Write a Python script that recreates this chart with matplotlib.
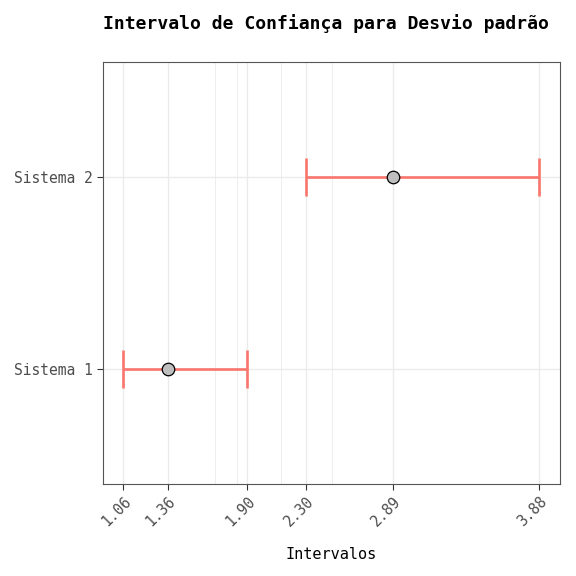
import matplotlib
matplotlib.use("Agg")
import matplotlib.pyplot as plt

# intervalos de confianca para o desvio padrao
sistemas = ["Sistema 1", "Sistema 2"]
inferior = [1.06, 2.30]
estimativa = [1.36, 2.89]
superior = [1.90, 3.88]
quebras = [1.06, 1.36, 1.90, 2.30, 2.89, 3.88]
quebras_menores = [1.683, 1.832, 2.127, 2.475]

plt.rcParams['font.family'] = ['DejaVu Sans Mono', 'DejaVu Sans']

fig = plt.figure(figsize=(5.76, 5.76), dpi=100)
ax = fig.add_axes([0.178, 0.160, 0.794, 0.732])

cor = '#F8766D'
ypos = list(range(1, len(sistemas) + 1))
ax.hlines(ypos, inferior, superior, color=cor, lw=1.9, zorder=3)
for y, lo, hi in zip(ypos, inferior, superior):
    ax.vlines([lo, hi], y - 0.1, y + 0.1, color=cor, lw=1.9, zorder=3)
ax.plot(estimativa, ypos, 'o', ms=9, mfc='#BEBEBE', mec='black', mew=0.9, zorder=4)

span = max(superior) - min(inferior)
ax.set_xlim(min(inferior) - 0.05 * span, max(superior) + 0.05 * span)
ax.set_ylim(0.4, 2.6)

ax.set_xticks(quebras)
ax.set_xticklabels([f"{q:.2f}" for q in quebras], rotation=45, ha='right', va='top',
                   rotation_mode='anchor')
ax.set_xticks(quebras_menores, minor=True)
ax.set_yticks(ypos)
ax.set_yticklabels(sistemas)

ax.grid(which='major', color='#EBEBEB', lw=1.0, zorder=0)
ax.grid(which='minor', axis='x', color='#EBEBEB', lw=0.6, zorder=0)
ax.set_axisbelow(True)
ax.tick_params(which='major', length=4, width=0.8, color='#333333',
               labelcolor='#4D4D4D', labelsize=10.5, pad=3)
ax.tick_params(which='minor', length=0)
for s in ax.spines.values():
    s.set_color('#555555')
    s.set_linewidth(0.8)

ax.set_xlabel("Intervalos", fontsize=11, labelpad=13)
ax.set_title("Intervalo de Confiança para Desvio padrão", fontsize=13.0, fontweight='bold',
             loc='left', pad=24)

fig.savefig("out.png", dpi=100)
